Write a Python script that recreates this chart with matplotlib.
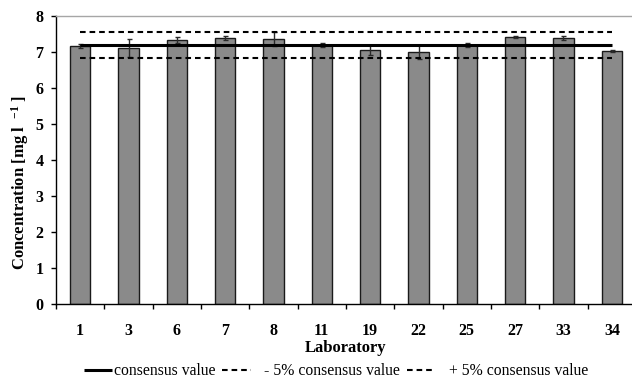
import matplotlib
matplotlib.use("Agg")
import matplotlib.pyplot as plt
import numpy as np
from matplotlib.lines import Line2D

# ---- data ----
laboratories = ['1', '3', '6', '7', '8', '11', '19', '22', '25', '27', '33', '34']
concentration = [7.16, 7.10, 7.32, 7.38, 7.35, 7.19, 7.05, 6.99, 7.19, 7.41, 7.38, 7.02]
uncertainty = [0.05, 0.25, 0.08, 0.06, 0.19, 0.06, 0.14, 0.19, 0.05, 0.02, 0.06, 0.03]
consensus_value = 7.20
lower_limit = 6.84
upper_limit = 7.56

plt.rcParams['font.family'] = ['Liberation Serif', 'DejaVu Serif']
plt.rcParams['mathtext.fontset'] = 'custom'
plt.rcParams['mathtext.rm'] = 'Liberation Serif:bold'
plt.rcParams['mathtext.it'] = 'Liberation Serif:bold'
plt.rcParams['mathtext.bf'] = 'Liberation Serif:bold'

W, H = 632, 380
fig = plt.figure(figsize=(W / 100, H / 100), dpi=100)
ax = fig.add_axes([56 / W, 76 / H, 580 / W, 288.3 / H])

x = np.arange(len(laboratories))
ax.bar(x, concentration, width=0.414, color='#8a8a8a', edgecolor='#1a1a1a',
       linewidth=1.0, zorder=2)
ax.errorbar(x, concentration, yerr=uncertainty, fmt='none', ecolor='#2a2a2a',
            elinewidth=1.0, capsize=1.8, capthick=1.0, zorder=3)

ax.plot(x, [consensus_value] * len(x), color='black', linewidth=2.2,
        solid_capstyle='butt', zorder=4)
ax.plot(x, [lower_limit] * len(x), color='black', linewidth=1.5,
        dashes=(2.7, 1.9), zorder=4)
ax.plot(x, [upper_limit] * len(x), color='black', linewidth=1.5,
        dashes=(2.7, 1.9), zorder=4)

ax.set_xlim(-0.5, len(laboratories) - 0.5)
ax.set_ylim(0, 8)

ax.set_xticks(np.arange(-0.5, len(laboratories), 1.0))
ax.set_xticklabels([])
ax.tick_params(axis='x', which='major', direction='out', length=3.6, width=1.0)
ax.set_xticks(x, laboratories, minor=True)
ax.tick_params(axis='x', which='minor', length=0, pad=13.5)
for lab in ax.get_xticklabels(minor=True):
    lab.set_fontweight('bold')
    lab.set_fontsize(11.5)

ax.set_yticks(np.arange(0, 9, 1))
ax.tick_params(axis='y', direction='out', length=3.6, width=1.0, pad=5.5)
for lab in ax.get_yticklabels():
    lab.set_fontweight('bold')
    lab.set_fontsize(11.5)

ax.spines['right'].set_visible(False)
ax.spines['top'].set_color('#a6a6a6')
ax.spines['top'].set_linewidth(1.0)
ax.spines['left'].set_linewidth(1.0)
ax.spines['bottom'].set_linewidth(1.0)

fig.text(20 / W, 1 - 183 / H, 'Concentration [mg l  $^{\\mathrm{-1}}$ ]',
         rotation=90, ha='center', va='center', fontsize=12, fontweight='bold')
fig.text(346 / W, 1 - 347.5 / H, 'Laboratory', ha='center', va='center',
         fontsize=12, fontweight='bold')

handles = [
    Line2D([], [], color='black', linewidth=2.2, solid_capstyle='butt'),
    Line2D([], [], color='black', linewidth=1.5, dashes=(2.7, 1.9)),
    Line2D([], [], color='black', linewidth=1.5, dashes=(2.7, 1.9)),
]
labels = ['consensus value', '   - 5% consensus value', '   + 5% consensus value']
fig.legend(handles, labels, loc='center', bbox_to_anchor=(336 / W, 1 - 371 / H),
           ncol=3, frameon=False, prop={'family': 'Liberation Serif', 'size': 11.3},
           handlelength=1.8, handletextpad=0.1, columnspacing=0.45,
           borderpad=0, borderaxespad=0)

fig.savefig('out.png', dpi=100)
